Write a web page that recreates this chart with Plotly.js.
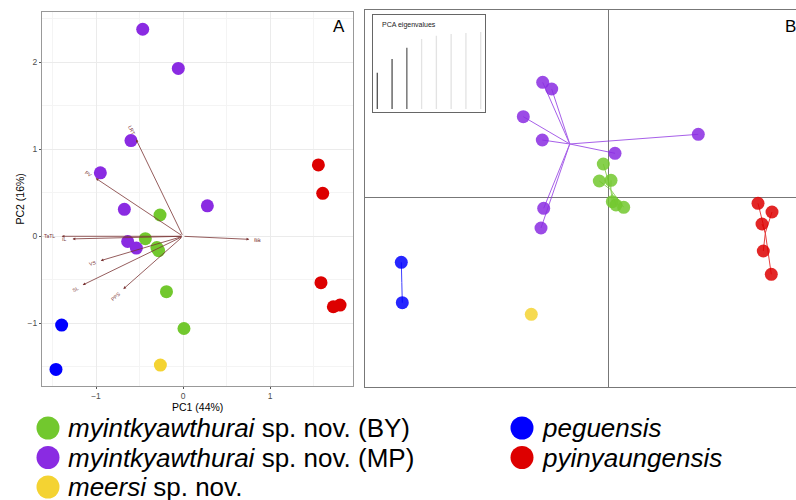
<!DOCTYPE html>
<html>
<head>
<meta charset="utf-8">
<script src="https://cdn.plot.ly/plotly-3.0.1.min.js"></script>
<style>html,body{margin:0;padding:0;background:#fff;}#chart{width:796px;height:500px;}</style>
</head>
<body>
<div id="chart"></div>
<script>
// ---- Data ----
const groupLabels = ['<i>myintkyawthurai</i> sp. nov. (BY)', '<i>myintkyawthurai</i> sp. nov. (MP)', '<i>meersi</i> sp. nov.', '<i>peguensis</i>', '<i>pyinyaungensis</i>'];
const groupColors = ['#72C82E', '#8A2BE2', '#F4D332', '#0000FF', '#DD0000'];

// Panel A: PCA scores
const pcaX_BY = [-0.264, -0.433, -0.30, -0.28, -0.19, 0.011];
const pcaY_BY = [0.245, -0.027, -0.13, -0.165, -0.637, -1.06];
const pcaX_MP = [-0.463, -0.054, -0.598, -0.95, -0.674, 0.28, -0.636, -0.536];
const pcaY_MP = [2.38, 1.93, 1.10, 0.73, 0.31, 0.35, -0.06, -0.135];
const pcaX_ME = [-0.26];
const pcaY_ME = [-1.48];
const pcaX_PE = [-1.395, -1.46];
const pcaY_PE = [-1.02, -1.53];
const pcaX_PY = [1.556, 1.606, 1.586, 1.728, 1.805];
const pcaY_PY = [0.82, 0.494, -0.533, -0.81, -0.79];

// Panel A: variable loadings (arrows)
const loadNames = ['LRT', 'PV', 'TaTL', 'IL', 'VS', 'SL', 'PPS', 'BB'];
const loadX = [-0.54, -1.003, -1.395, -1.27, -0.946, -1.153, -0.686, 0.762];
const loadY = [1.115, 0.667, 0.0, -0.03, -0.28, -0.56, -0.606, -0.035];

// Panel B: DAPC scores
const dX_BY = [-0.108, -0.188, 0.046, 0.072, 0.146, 0.30];
const dY_BY = [0.666, 0.326, 0.34, -0.088, -0.154, -0.20];
const dX_MP = [-1.32, -1.14, -1.708, -1.328, 0.126, 1.792, -1.30, -1.354];
const dY_MP = [2.30, 2.166, 1.612, 1.146, 0.88, 1.26, -0.22, -0.614];
const dX_ME = [-1.548];
const dY_ME = [-2.34];
const dX_PE = [-4.148, -4.128];
const dY_PE = [-1.30, -2.108];
const dX_PY = [2.986, 3.266, 3.066, 3.092, 3.252];
const dY_PY = [-0.12, -0.294, -0.534, -1.074, -1.54];

// Panel B inset: PCA eigenvalues
const eigIndex = [1, 2, 3, 4, 5, 6, 7, 8];
const eigValues = [36.3, 50, 61.3, 70, 73.3, 75, 76, 77];
const eigColors = ['#555555', '#555555', '#666666', '#e3e3e3', '#e3e3e3', '#e3e3e3', '#e3e3e3', '#e3e3e3'];

// ---- Build ----
const pcaX = [pcaX_BY, pcaX_MP, pcaX_ME, pcaX_PE, pcaX_PY];
const pcaY = [pcaY_BY, pcaY_MP, pcaY_ME, pcaY_PE, pcaY_PY];
const dX = [dX_BY, dX_MP, dX_ME, dX_PE, dX_PY];
const dY = [dY_BY, dY_MP, dY_ME, dY_PE, dY_PY];
const mean = a => a.reduce((s, v) => s + v, 0) / a.length;
const FONT = 'Liberation Sans, Arial, sans-serif';

const traces = [];
// Panel A points
for (let g = 0; g < 5; g++) {
  traces.push({type: 'scatter', mode: 'markers', x: pcaX[g], y: pcaY[g], xaxis: 'x', yaxis: 'y',
    marker: {color: groupColors[g], size: 13}, showlegend: false, hoverinfo: 'skip'});
}
// Panel B star lines
for (let g = 0; g < 5; g++) {
  const cx = mean(dX[g]), cy = mean(dY[g]);
  const lx = [], ly = [];
  dX[g].forEach((v, i) => { lx.push(cx, v, null); ly.push(cy, dY[g][i], null); });
  traces.push({type: 'scatter', mode: 'lines', x: lx, y: ly, xaxis: 'x2', yaxis: 'y2',
    line: {color: groupColors[g], width: 1}, opacity: 0.75, showlegend: false, hoverinfo: 'skip'});
}
// Panel B points
for (let g = 0; g < 5; g++) {
  traces.push({type: 'scatter', mode: 'markers', x: dX[g], y: dY[g], xaxis: 'x2', yaxis: 'y2',
    marker: {color: groupColors[g], size: 13, opacity: 0.85}, showlegend: false, hoverinfo: 'skip'});
}
// Inset eigenvalues
traces.push({type: 'bar', x: eigIndex, y: eigValues, xaxis: 'x3', yaxis: 'y3', width: 0.09,
  marker: {color: eigColors}, showlegend: false, hoverinfo: 'skip'});
// Legend markers
const legCol = [0, 0, 0, 1, 1], legRow = [0, 1, 2, 0, 1];
const colX = [48, 522], rowY = [428, 457.5, 487];
traces.push({type: 'scatter', mode: 'markers', x: legCol.map(c => colX[c]), y: legRow.map(r => rowY[r]),
  xaxis: 'x4', yaxis: 'y4', marker: {color: groupColors, size: 23}, showlegend: false, hoverinfo: 'skip', cliponaxis: false});

const annotations = [];
const arrowColor = '#7a3434';
loadNames.forEach((n, i) => {
  annotations.push({xref: 'x', yref: 'y', axref: 'x', ayref: 'y', x: loadX[i], y: loadY[i], ax: 0, ay: 0,
    text: '', showarrow: true, arrowhead: 2, arrowsize: 0.7, arrowwidth: 0.8, arrowcolor: arrowColor, standoff: 0});
  const len = Math.hypot(loadX[i], loadY[i]);
  const ux = loadX[i] / len, uy = loadY[i] / len;
  const off = 0.05 + 0.022 * n.length;
  let ang = Math.atan2(uy, ux) * 180 / Math.PI;
  if (ang > 90) ang -= 180; else if (ang < -90) ang += 180;
  annotations.push({xref: 'x', yref: 'y', x: loadX[i] + ux * off, y: loadY[i] + uy * off, text: n,
    showarrow: false, textangle: -ang, font: {family: FONT, size: 5, color: arrowColor}});
});
const pxAnn = (x, y, text, size, color, xanchor, extra) => Object.assign({xref: 'paper', yref: 'paper',
  x: x / 796, y: 1 - y / 500, xanchor: xanchor || 'center', yanchor: 'middle', text: text, showarrow: false,
  font: {family: FONT, size: size, color: color}}, extra || {});
annotations.push(pxAnn(339, 26, 'A', 17, '#000'));
annotations.push(pxAnn(790, 26, 'B', 17, '#000'));
annotations.push(pxAnn(380, 25, 'PCA eigenvalues', 7, '#222', 'left'));
annotations.push(pxAnn(197.5, 406.5, 'PC1 (44%)', 10.5, '#000'));
annotations.push(pxAnn(19.5, 199, 'PC2 (16%)', 10.5, '#000', 'center', {textangle: -90}));
for (let g = 0; g < 5; g++) {
  annotations.push({xref: 'x4', yref: 'y4', x: colX[legCol[g]] + 18, y: rowY[legRow[g]], xanchor: 'left', yanchor: 'middle',
    text: groupLabels[g], showarrow: false, font: {family: FONT, size: 26, color: '#000'}});
}

const tickFont = {family: FONT, size: 8.5, color: '#4d4d4d'};

const layout = {
  width: 796, height: 500,
  margin: {l: 0, r: 0, t: 0, b: 0},
  paper_bgcolor: '#fff', plot_bgcolor: 'rgba(0,0,0,0)',
  showlegend: false,
  xaxis: {domain: [42 / 796, 353 / 796], range: [-1.6207, 1.954], anchor: 'y',
    tickvals: [-1, 0, 1], showgrid: true, gridcolor: '#ebebeb', gridwidth: 1,
    minor: {tickvals: [-1.5, -0.5, 0.5, 1.5], showgrid: true, gridcolor: '#f4f4f4', gridwidth: 1},
    zeroline: false, showline: true, mirror: true, linecolor: '#999', linewidth: 1,
    ticks: 'outside', ticklen: 2, tickcolor: '#555', tickfont: tickFont, automargin: false},
  yaxis: {domain: [0.228, 0.976], range: [-1.7207, 2.578], anchor: 'x',
    tickvals: [-1, 0, 1, 2], showgrid: true, gridcolor: '#ebebeb', gridwidth: 1,
    minor: {tickvals: [-1.5, -0.5, 0.5, 1.5, 2.5], showgrid: true, gridcolor: '#f4f4f4', gridwidth: 1},
    zeroline: false, showline: true, mirror: true, linecolor: '#999', linewidth: 1,
    ticks: 'outside', ticklen: 2, tickcolor: '#555', tickfont: tickFont, automargin: false},
  xaxis2: {domain: [364.7 / 796, 1], range: [-4.88, 3.746], anchor: 'y2',
    showgrid: false, showticklabels: false, ticks: '', zeroline: true, zerolinecolor: '#777', zerolinewidth: 1,
    showline: true, mirror: true, linecolor: '#777', linewidth: 1},
  yaxis2: {domain: [0.2254, 0.9806], range: [-3.8, 3.752], anchor: 'x2',
    showgrid: false, showticklabels: false, ticks: '', zeroline: true, zerolinecolor: '#777', zerolinewidth: 1,
    showline: true, mirror: false, linecolor: '#777', linewidth: 1},
  xaxis3: {domain: [373.3 / 796, 485 / 796], range: [0.729, 8.292], anchor: 'y3',
    showgrid: false, showticklabels: false, ticks: '', zeroline: false,
    showline: true, mirror: true, linecolor: '#666', linewidth: 1},
  yaxis3: {domain: [1 - 112.3 / 500, 1 - 15.3 / 500], range: [-3.3, 93.7], anchor: 'x3',
    showgrid: false, showticklabels: false, ticks: '', zeroline: false,
    showline: true, mirror: true, linecolor: '#666', linewidth: 1},
  xaxis4: {domain: [0, 1], range: [0, 796], anchor: 'y4', visible: false, fixedrange: true},
  yaxis4: {domain: [0, 1], range: [500, 0], anchor: 'x4', visible: false, fixedrange: true},
  annotations: annotations
};

Plotly.newPlot('chart', traces, layout, {staticPlot: true, displayModeBar: false});
</script>
</body>
</html>
